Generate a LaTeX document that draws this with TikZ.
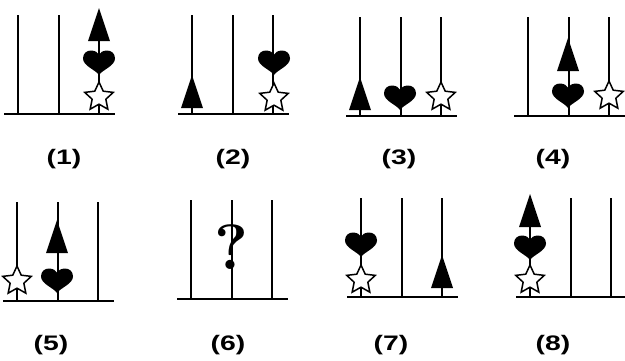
\documentclass[tikz,border=0pt]{standalone}
\usepackage{fontspec}
\newfontfamily\labfont[FakeStretch=1.35]{Liberation Sans}

\begin{document}
\begin{tikzpicture}[x=1pt,y=-1pt,
 pole/.style={line width=2pt},
 ground/.style={line width=2.4pt},
 caption/.style={font=\labfont\bfseries\fontsize{21}{23}\selectfont,inner sep=0pt},
 qmark/.style={font=\bfseries\fontsize{64}{64}\selectfont,inner sep=0pt},
 cone/.pic={\fill (-11,0) -- (0,-33) -- (11,0) -- cycle;},
 heart/.pic={\fill (0,0) .. controls (-3,-5) and (-16,-9) .. (-16,-16.5)
   .. controls (-16,-21.5) and (-12.5,-24.5) .. (-8,-24.5)
   .. controls (-4,-24.5) and (-1.2,-22.5) .. (0,-20.5)
   .. controls (1.2,-22.5) and (4,-24.5) .. (8,-24.5)
   .. controls (12.5,-24.5) and (16,-21.5) .. (16,-16.5)
   .. controls (16,-9) and (3,-5) .. (0,0) -- cycle;},
 starlet/.pic={\draw[line width=1.5pt,fill=white,line join=miter]
   (-90:15) -- (-54:7.2) -- (-18:15) -- (18:7.2) -- (54:15) -- (90:7.2)
   -- (126:15) -- (162:7.2) -- (198:15) -- (234:7.2) -- cycle;}]
\useasboundingbox (0,0) rectangle (625,360);

\foreach \p/\px/\py in {1/18/114,2/192/114,3/360/116,4/528/116,
                        5/17/301,6/191/299,7/361/297,8/530/297}{
  \draw[ground] (\px-14,\py) -- (\px+97,\py);
  \foreach \k in {0,1,2}
    \draw[pole] (\px+40.5*\k,\py) -- (\px+40.5*\k,\py-99);
}

% (1)
\pic at (99,41) {cone};
\pic at (99,75) {heart};
\pic at (99,97) {starlet};
% (2)
\pic at (192,108) {cone};
\pic at (274,75) {heart};
\pic at (274,98) {starlet};
% (3)
\pic at (360,110) {cone};
\pic at (400,110) {heart};
\pic at (441,97) {starlet};
% (4)
\pic at (568,71) {cone};
\pic at (568,108) {heart};
\pic at (609,96) {starlet};
% (5)
\pic at (17,281) {starlet};
\pic at (57,253) {cone};
\pic at (57,293) {heart};
% (6)
\node[qmark] (ask) at (231,247.5) {?};
% (7)
\pic at (361,257) {heart};
\pic at (361,280) {starlet};
\pic at (442,288) {cone};
% (8)
\pic at (530,227) {cone};
\pic at (530,260) {heart};
\pic at (530,280) {starlet};

\node[caption] (lab1) at (64,159) {(1)};
\node[caption] (lab2) at (233,159) {(2)};
\node[caption] (lab3) at (399,159) {(3)};
\node[caption] (lab4) at (553,159) {(4)};
\node[caption] (lab5) at (51,345) {(5)};
\node[caption] (lab6) at (228,345) {(6)};
\node[caption] (lab7) at (391,345) {(7)};
\node[caption] (lab8) at (553,345) {(8)};
\end{tikzpicture}
\end{document}
